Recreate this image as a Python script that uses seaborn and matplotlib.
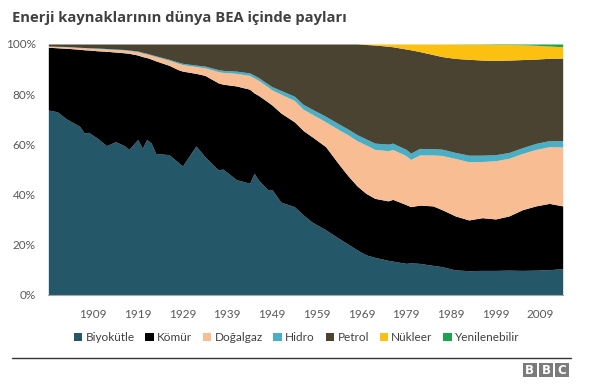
"""Energy source shares in world primary energy, 100% stacked area."""
import matplotlib
matplotlib.use("Agg")
import matplotlib.pyplot as plt
from matplotlib.lines import Line2D
from matplotlib.patches import Patch, Rectangle
import seaborn as sns

years = [1899, 1901, 1903, 1906, 1907, 1908, 1910, 1912, 1914, 1916, 1917,
         1919, 1920, 1921, 1922, 1923, 1926, 1928, 1929, 1932, 1934, 1937,
         1938, 1941, 1944, 1945, 1946, 1948, 1949, 1951, 1954, 1956, 1958,
         1961, 1964, 1966, 1968, 1970, 1972, 1975, 1976, 1979, 1980, 1982,
         1985, 1987, 1990, 1993, 1996, 1999, 2002, 2005, 2008, 2011, 2014]

biomass = [73.7, 73.0, 70.2, 67.2, 64.6, 64.8, 62.4, 59.5, 61.1, 59.5, 58.0,
           62.0, 58.4, 62.0, 60.5, 56.4, 55.9, 52.9, 51.4, 59.4, 55.1, 49.8,
           50.2, 46.0, 44.5, 48.5, 45.8, 42.0, 42.0, 37.0, 35.2, 31.9, 29.0,
           26.0, 22.5, 20.3, 18.0, 16.0, 15.0, 13.8, 13.5, 12.6, 12.8, 12.6,
           11.8, 11.3, 10.0, 9.7, 9.8, 9.8, 9.9, 9.8, 9.9, 10.1, 10.5]

coal = [25.0, 25.5, 28.1, 30.7, 33.1, 32.8, 34.9, 37.6, 35.7, 37.0, 38.3,
        33.6, 36.6, 32.6, 33.5, 36.9, 35.6, 36.9, 37.8, 28.9, 32.4, 34.7,
        33.8, 37.3, 37.5, 32.0, 33.7, 35.0, 33.7, 35.5, 33.8, 33.6, 34.0,
        33.1, 29.5, 27.2, 25.5, 24.5, 23.5, 23.7, 24.6, 23.4, 22.4, 23.2,
        23.7, 22.7, 21.5, 20.2, 21.0, 20.5, 21.6, 24.2, 25.6, 26.4, 25.0]

gas = [0.4, 0.5, 0.6, 0.7, 0.8, 0.8, 0.9, 0.9, 1.0, 1.1, 1.1,
       1.3, 1.4, 1.4, 1.5, 1.7, 2.0, 2.5, 2.6, 2.7, 3.0, 4.5,
       4.7, 5.0, 5.5, 6.0, 6.0, 6.0, 6.0, 7.5, 8.5, 8.5, 9.0,
       9.9, 13.8, 16.3, 18.0, 19.3, 19.5, 20.0, 19.9, 19.5, 18.8, 20.0,
       20.3, 21.6, 22.9, 23.2, 22.4, 23.2, 23.0, 22.4, 22.5, 22.6, 23.5]

hydro = [0.1, 0.1, 0.1, 0.1, 0.1, 0.1, 0.2, 0.2, 0.2, 0.2, 0.2,
         0.3, 0.3, 0.3, 0.3, 0.3, 0.4, 0.5, 0.5, 0.6, 0.7, 0.8,
         0.8, 0.9, 1.0, 1.1, 1.1, 1.2, 1.3, 1.5, 1.7, 1.9, 2.0,
         2.2, 2.3, 2.3, 2.4, 2.4, 2.5, 2.6, 2.5, 2.5, 2.5, 2.6,
         2.5, 2.5, 2.4, 2.6, 2.5, 2.4, 2.3, 2.3, 2.4, 2.4, 2.5]

petrol = [0.8, 0.9, 1.0, 1.3, 1.4, 1.5, 1.6, 1.8, 2.0, 2.2, 2.4,
          2.8, 3.3, 3.7, 4.2, 4.7, 6.1, 7.2, 7.7, 8.4, 8.8, 10.2,
          10.5, 10.8, 11.5, 12.4, 13.4, 15.8, 17.0, 18.5, 20.8, 24.1, 26.0,
          28.8, 31.9, 33.9, 36.1, 37.6, 39.1, 39.0, 38.4, 40.0, 41.2, 38.6,
          37.5, 36.9, 37.45, 38.2, 37.9, 37.6, 36.8, 35.1, 33.6, 32.8, 32.9]

nuclear = [0, 0, 0, 0, 0, 0, 0, 0, 0, 0, 0,
           0, 0, 0, 0, 0, 0, 0, 0, 0, 0, 0,
           0, 0, 0, 0, 0, 0, 0, 0, 0, 0, 0,
           0, 0, 0, 0, 0.2, 0.4, 0.9, 1.1, 2.0, 2.3, 3.0,
           4.2, 5.0, 5.7, 6.0, 6.3, 6.3, 6.2, 5.9, 5.5, 4.9, 4.5]

renewables = [0, 0, 0, 0, 0, 0, 0, 0, 0, 0, 0,
              0, 0, 0, 0, 0, 0, 0, 0, 0, 0, 0,
              0, 0, 0, 0, 0, 0, 0, 0, 0, 0, 0,
              0, 0, 0, 0, 0, 0, 0, 0, 0, 0, 0,
              0, 0, 0.05, 0.1, 0.1, 0.2, 0.2, 0.3, 0.5, 0.8, 1.1]

labels = ["Biyokütle", "Kömür", "Doğalgaz", "Hidro", "Petrol", "Nükleer",
          "Yenilenebilir"]
colors = ["#245868", "#000000", "#f8bd92", "#4aaec4", "#4a4331", "#fcc010",
          "#1ba34e"]
tick_years = [1899, 1909, 1919, 1929, 1939, 1949, 1959, 1969, 1979, 1989,
              1999, 2009]

sns.set_style("white")
plt.rcParams["font.family"] = ["Lato", "DejaVu Sans"]

fig = plt.figure(figsize=(5.9, 3.88), dpi=100)
ax = fig.add_axes([0.0819, 0.2397, 0.8718, 0.6469])

ax.stackplot(years, biomass, coal, gas, hydro, petrol, nuclear, renewables,
             colors=colors, linewidth=0, antialiased=True)

ax.set_xlim(1899, 2014)
ax.set_ylim(0, 100)
ax.set_yticks(range(0, 101, 20))
ax.set_yticklabels([f"{v}%" for v in range(0, 101, 20)])
ax.set_xticks(tick_years)
ax.set_xticklabels([""] + [str(y) for y in tick_years[1:]])
ax.tick_params(axis="y", length=0, pad=9, labelsize=8.5, labelcolor="#595959")
ax.tick_params(axis="x", length=4, width=0.8, color="#a6a6a6", pad=6,
               labelsize=8.5, labelcolor="#595959", direction="out")
sns.despine(ax=ax, left=True, top=True, right=True)
ax.spines["bottom"].set_color("#a6a6a6")
ax.spines["bottom"].set_linewidth(0.8)
ax.grid(False)

fig.text(0.02, 0.953, "Enerji kaynaklarının dünya BEA içinde payları",
         fontsize=10.6, fontweight="bold", color="#404040",
         family=["Open Sans", "DejaVu Sans"], va="center", ha="left")

handles = [Patch(facecolor=c, edgecolor="none") for c in colors]
fig.legend(handles, labels, loc="center", bbox_to_anchor=(0.503, 0.129),
           ncol=7, frameon=False, fontsize=8.5, handlelength=0.7,
           handleheight=0.7, handletextpad=0.3, columnspacing=0.9,
           labelcolor="#404040")

fig.add_artist(Line2D([11.7 / 590, 571 / 590], [1 - 358.3 / 388] * 2,
                      color="#333333", linewidth=1))

for i, letter in enumerate("BBC"):
    x0 = (523 + i * 16.2) / 590
    fig.add_artist(Rectangle((x0, 1 - 377 / 388), 13.5 / 590, 14 / 388,
                             facecolor="#7b7b7b", edgecolor="none",
                             transform=fig.transFigure))
    fig.text(x0 + 6.75 / 590, 1 - 370 / 388, letter, color="white",
             fontsize=8.5, fontweight="bold", ha="center", va="center",
             family=["DejaVu Sans"])

fig.savefig("out.png", dpi=100, facecolor="white")
plt.close(fig)
